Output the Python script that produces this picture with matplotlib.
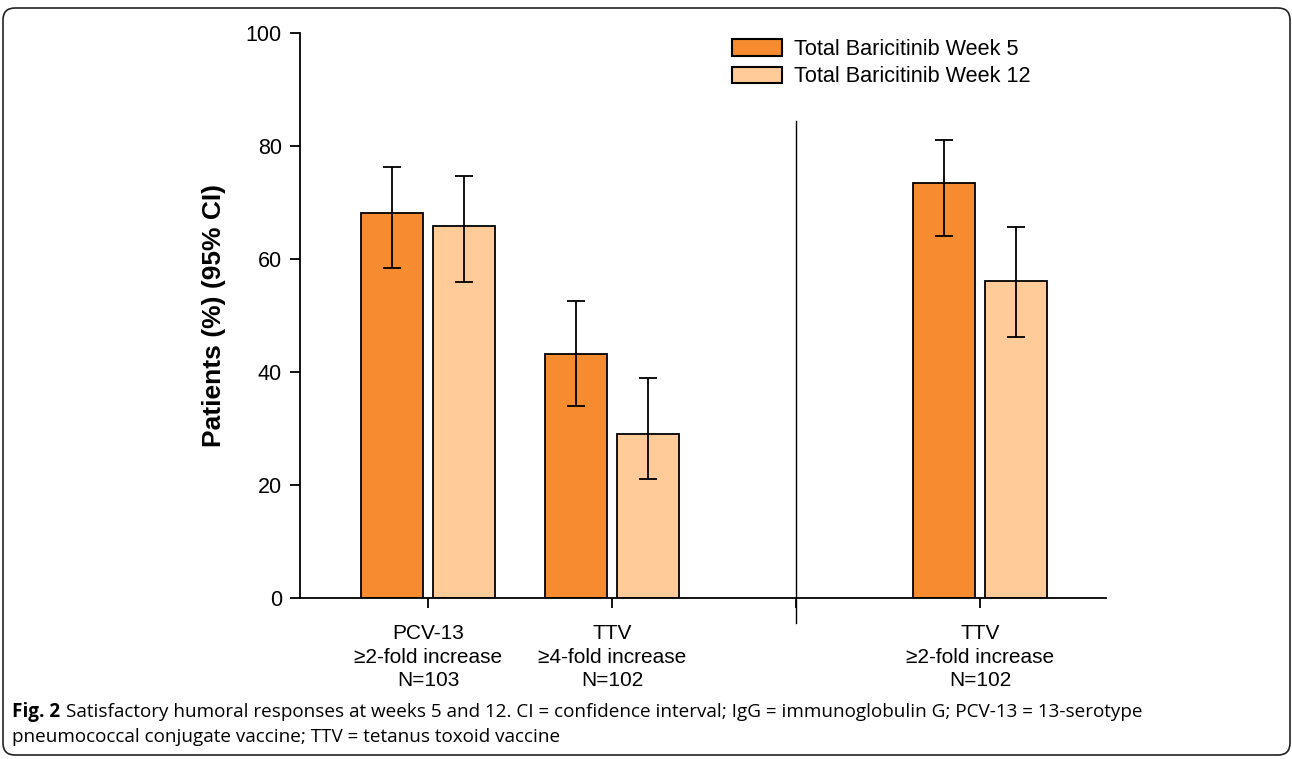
import matplotlib
matplotlib.use("Agg")
import matplotlib.pyplot as plt
from matplotlib.patches import FancyBboxPatch, Patch
from matplotlib.transforms import IdentityTransform

# ---- data ----
categories = ["PCV-13\n≥2-fold increase\nN=103",
              "TTV\n≥4-fold increase\nN=102",
              "TTV\n≥2-fold increase\nN=102"]
series_names = ["Total Baricitinib Week 5", "Total Baricitinib Week 12"]
week5 = [68.1, 43.2, 73.5]
week5_lo = [58.4, 34.0, 64.1]
week5_hi = [76.2, 52.6, 81.1]
week12 = [65.8, 29.0, 56.1]
week12_lo = [55.9, 21.1, 46.2]
week12_hi = [74.7, 38.9, 65.6]
yticks = [0, 20, 40, 60, 80, 100]

# ---- style ----
c5 = "#F68B30"
c12 = "#FFCC99"
W, H = 1292, 759
dpi = 100
fig = plt.figure(figsize=(W / dpi, H / dpi), dpi=dpi)
plt.rcParams["font.family"] = ["Liberation Sans", "DejaVu Sans"]

ax = fig.add_axes([300 / W, 1 - 598 / H, (1106 - 300) / W, (598 - 33) / H])
pos = [1, 2, 4]
off = 0.196
bw = 0.34

def err(v, lo, hi):
    return [[a - b for a, b in zip(v, lo)], [c - a for a, c in zip(v, hi)]]

ek = dict(ecolor="black", elinewidth=1.3, capsize=6.5, capthick=1.3)
ax.bar([p - off for p in pos], week5, bw, color=c5, edgecolor="black", linewidth=1.3,
       yerr=err(week5, week5_lo, week5_hi), error_kw=ek, label=series_names[0], zorder=2)
ax.bar([p + off for p in pos], week12, bw, color=c12, edgecolor="black", linewidth=1.3,
       yerr=err(week12, week12_lo, week12_hi), error_kw=ek, label=series_names[1], zorder=2)

ax.set_xlim(1 - 128 / 184, 1 + (1106 - 428) / 184)
ax.set_ylim(0, 100)
ax.set_yticks(yticks)
ax.set_yticklabels([str(t) for t in yticks], fontsize=15.5)
ax.set_xticks(pos + [3])
ax.set_xticklabels(categories + [""], fontsize=15, linespacing=1.3)
ax.tick_params(axis="both", direction="out", length=7, width=1.3, colors="black")
ax.tick_params(axis="y", pad=6)
ax.tick_params(axis="x", pad=12)
for s in ["top", "right"]:
    ax.spines[s].set_visible(False)
for s in ["left", "bottom"]:
    ax.spines[s].set_linewidth(1.3)

# separator line
ax.plot([3, 3], [-4.4, 84.5], color="black", lw=1.0, clip_on=False, zorder=3)

ax.set_ylabel("Patients (%) (95% CI)", fontsize=19, fontweight="bold", labelpad=14)

handles = [Patch(facecolor=c5, edgecolor="black", linewidth=1.5),
           Patch(facecolor=c12, edgecolor="black", linewidth=1.5)]
ax.legend(handles, series_names, loc="upper left", bbox_to_anchor=((723 - 300) / (1106 - 300), 1.005),
          frameon=False, fontsize=15.6, handlelength=2.3, handleheight=0.8,
          handletextpad=0.6, labelspacing=0.3, borderaxespad=0)

# caption
r = fig.canvas.get_renderer()
cap_font = ["Open Sans", "DejaVu Sans"]
cfs = 13.6
t1 = fig.text(12 / W, 1 - 712 / H, "Fig. 2", fontsize=cfs, fontweight="bold",
              family=cap_font, va="center", ha="left")
bb = t1.get_window_extent(r)
fig.text((bb.x1 + 6) / W, 1 - 712 / H,
         "Satisfactory humoral responses at weeks 5 and 12. CI = confidence interval; IgG = immunoglobulin G; PCV-13 = 13-serotype",
         fontsize=cfs, family=cap_font, va="center", ha="left")
fig.text(12 / W, 1 - 737 / H, "pneumococcal conjugate vaccine; TTV = tetanus toxoid vaccine",
         fontsize=cfs, family=cap_font, va="center", ha="left")

# rounded frame
frame = FancyBboxPatch((3, H - 755), 1287, 747, boxstyle="round,pad=0,rounding_size=12",
                       transform=IdentityTransform(), fill=False, edgecolor="#222222",
                       linewidth=1.2)
fig.patches.append(frame)

fig.savefig("out.png", dpi=dpi)
